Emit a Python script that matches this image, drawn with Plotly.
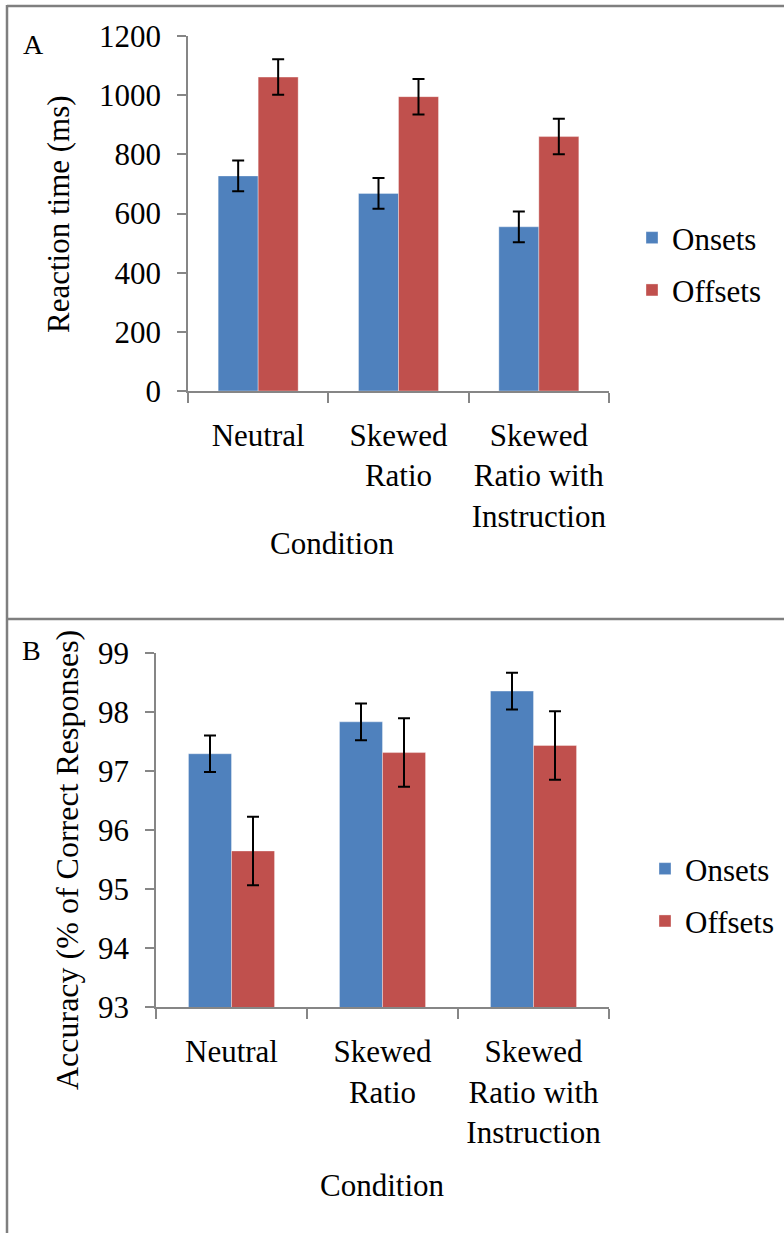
import plotly.graph_objects as go

# ---- data ----
categories = ["Neutral", "Skewed Ratio", "Skewed Ratio with Instruction"]
tick_labels = ["Neutral", "Skewed<br>Ratio", "Skewed<br>Ratio with<br>Instruction"]

rt_onsets = [727, 668, 555]
rt_onsets_err = [52, 52, 52]
rt_offsets = [1061, 995, 860]
rt_offsets_err = [60, 60, 60]

acc_onsets = [97.29, 97.83, 98.35]
acc_onsets_err = [0.31, 0.31, 0.31]
acc_offsets = [95.645, 97.31, 97.43]
acc_offsets_err = [0.58, 0.58, 0.58]

series_names = ["Onsets", "Offsets"]
colors = ["#4F81BD", "#C0504D"]

W, H = 784, 1233
FONT = "Liberation Serif, Times New Roman, serif"
FS = 31


def px(x):
    return x / W


def py(y):
    return 1 - y / H


fig = go.Figure()

err_style = dict(type="data", color="black", thickness=2, width=6, visible=True)

for name, vals, errs, col in zip(series_names, [rt_onsets, rt_offsets],
                                 [rt_onsets_err, rt_offsets_err], colors):
    fig.add_trace(go.Bar(
        x=categories, y=vals, name=name, xaxis="x", yaxis="y",
        marker=dict(color=col, line=dict(color="rgba(255,255,255,0.35)", width=1)),
        error_y=dict(array=errs, **err_style),
        legend="legend", legendgroup="a" + name,
    ))

for name, vals, errs, col in zip(series_names, [acc_onsets, acc_offsets],
                                 [acc_onsets_err, acc_offsets_err], colors):
    fig.add_trace(go.Bar(
        x=categories, y=vals, name=name, xaxis="x2", yaxis="y2",
        marker=dict(color=col, line=dict(color="rgba(255,255,255,0.35)", width=1)),
        error_y=dict(array=errs, **err_style),
        legend="legend2", legendgroup="b" + name,
    ))

axis_common = dict(
    showline=True, linecolor="#868686", linewidth=1.5,
    ticks="outside", tickcolor="#868686", tickwidth=1.5, ticklen=9,
    showgrid=False, zeroline=False, automargin=False,
    tickfont=dict(family=FONT, size=FS, color="black"),
)

xaxis_common = dict(axis_common, type="category", tickson="boundaries",
                    tickvals=categories, ticktext=tick_labels, tickangle=0,
                    range=[-0.5, 2.5], ticklen=10, fixedrange=True,
                    ticklabelstandoff=16)

fig.update_layout(
    width=W, height=H, autosize=False,
    margin=dict(l=0, r=0, t=0, b=0),
    paper_bgcolor="white", plot_bgcolor="white",
    barmode="group", bargap=0.43, bargroupgap=0,
    font=dict(family=FONT, size=FS, color="black"),
    xaxis=dict(xaxis_common, domain=[px(188), px(609)], anchor="y"),
    yaxis=dict(axis_common, domain=[py(391), py(36)], range=[0, 1200],
               dtick=200, anchor="x", ticklabelstandoff=10),
    xaxis2=dict(xaxis_common, domain=[px(156), px(609)], anchor="y2"),
    yaxis2=dict(axis_common, domain=[py(1007.3), py(652.7)], range=[93, 99],
                dtick=1, anchor="x2", ticklabelstandoff=10),
    legend=dict(x=px(632), y=py(211), xanchor="left", yanchor="top",
                font=dict(family=FONT, size=FS), tracegroupgap=9,
                itemwidth=30, bgcolor="rgba(0,0,0,0)"),
    legend2=dict(x=px(645), y=py(842), xanchor="left", yanchor="top",
                 font=dict(family=FONT, size=FS), tracegroupgap=9,
                 itemwidth=30, bgcolor="rgba(0,0,0,0)"),
    showlegend=True,
)

annotations = [
    dict(text="A", x=px(33), y=py(45), font=dict(size=28)),
    dict(text="B", x=px(32), y=py(650), font=dict(size=28)),
    dict(text="Reaction time (ms)", x=px(59), y=py(214), textangle=-90),
    dict(text="Accuracy (% of Correct Responses)", x=px(67), y=py(860),
         textangle=-90, font=dict(size=32)),
    dict(text="Condition", x=px(332), y=py(543)),
    dict(text="Condition", x=px(382), y=py(1185)),
]
for a in annotations:
    a.update(xref="paper", yref="paper", showarrow=False,
             xanchor="center", yanchor="middle")
    a.setdefault("font", dict())
    a["font"].update(family=FONT, color="black")
    if "size" not in a["font"]:
        a["font"]["size"] = FS
fig.update_layout(annotations=annotations)

border = dict(color="#7f7f7f", width=2.5)
shapes = [
    dict(type="line", xref="paper", yref="paper", x0=px(7), x1=1, y0=py(6), y1=py(6), line=border),
    dict(type="line", xref="paper", yref="paper", x0=px(7), x1=px(7), y0=py(5), y1=0, line=border),
    dict(type="line", xref="paper", yref="paper", x0=px(7), x1=1, y0=py(619), y1=py(619), line=border),
]
fig.update_layout(shapes=shapes)

fig.write_html("out.html", config={"displayModeBar": False},
               post_script="document.body.style.margin='0px';document.body.style.padding='0px';")
